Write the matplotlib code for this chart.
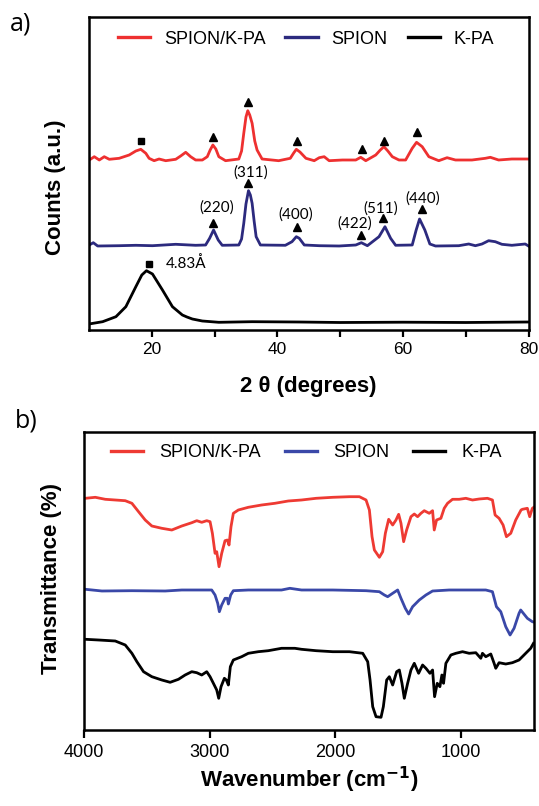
import matplotlib
matplotlib.use("Agg")
import matplotlib.pyplot as plt

# ---------------- XRD data (2 theta, counts a.u.) ----------------
xrd_comp_x = [10.0, 10.05, 10.84, 11.64, 12.43, 13.23, 14.81, 16.4, 17.46, 18.25, 19.05, 19.57, 20.37,
              21.16, 22.22, 23.81, 24.6, 25.4, 26.19, 26.98, 28.05, 28.84, 29.3, 29.73, 30.2, 30.68,
              31.75, 33.86, 34.3, 34.65, 35.0, 35.29, 35.6, 35.98, 36.4, 36.77, 37.57, 40.21, 42.06,
              42.6, 43.02, 43.6, 44.55, 45.87, 46.67, 47.46, 48.25, 50.37, 52.49, 53.28, 54.08, 55.67,
              56.4, 56.98, 57.6, 58.31, 59.37, 60.43, 61.48, 62.17, 63.07, 64.13, 65.71, 67.03, 68.37,
              71.0, 73.13, 73.92, 75.24, 77.35, 80.0]
xrd_comp_y = [170, 169, 172.3, 169, 172.3, 169.7, 170.7, 174, 178, 179.7, 175.7, 170.7, 168.3,
              170, 168.3, 169.7, 173, 176.7, 172.3, 169, 169, 172.3, 179, 184, 180, 172.3,
              168.3, 170, 178, 195.7, 212, 218.3, 214, 205.7, 188, 179, 170, 168.3, 170.7,
              176, 179.7, 177, 170.7, 168.3, 171.3, 172.3, 168.3, 169, 169, 171.7, 168.3, 174,
              179, 182.3, 178, 172.3, 169, 169, 180.7, 186.7, 182.3, 172.3, 168.3, 171.3, 169,
              169, 170.7, 171.7, 169, 170, 170]

xrd_spion_x = [10.0, 10.05, 10.68, 11.38, 14.81, 17.46, 20.11, 23.81, 26.98, 28.57, 29.21, 29.84, 30.58,
               31.22, 33.86, 34.3, 34.65, 35.0, 35.4, 35.7, 35.98, 36.3, 36.62, 37.3, 41.27, 42.33,
               43.02, 43.49, 44.29, 46.67, 49.84, 52.49, 53.38, 54.34, 56.19, 57.14, 58.04, 58.84,
               61.48, 62.11, 62.65, 63.49, 64.29, 65.19, 68.89, 70.48, 71.54, 72.59, 73.65, 74.71,
               75.76, 77.35, 79.48, 80.0]
xrd_spion_y = [84, 84, 86.3, 83, 83.3, 83.7, 83.3, 84.7, 83.7, 84, 90.7, 99, 89,
               83.7, 84, 90, 105.7, 125, 138.3, 134, 125.7, 108, 92.3, 84, 83.7, 87.3,
               92.3, 90.7, 84, 83.3, 83, 84, 86.3, 83.3, 92.3, 102.3, 90.7, 83.7,
               84, 99, 110, 99, 85, 83, 83.3, 85, 83.3, 85, 88.3, 87.3,
               84.7, 83.7, 85, 83]

xrd_kpa_x = [10.0, 12.17, 14.29, 15.87, 17.46, 18.41, 19.15, 20.11, 21.7, 23.29, 24.87, 25.6, 26.46,
             28.05, 30.68, 35.98, 43.4, 50.0, 60.0, 70.0, 80.0]
xrd_kpa_y = [5, 7.3, 12.3, 22.3, 42.3, 54, 58.3, 55, 39, 22.3, 14, 12, 10,
             8, 6.7, 7.3, 7, 6.5, 6.8, 6.5, 7]

# phase markers
sq_x = [18.25, 19.6]
sq_y = [188.3, 65]
tri_comp_x = [29.8, 35.3, 43.2, 53.5, 57.0, 62.3]
tri_comp_y = [192.3, 226.7, 188.3, 179.7, 188.3, 197]
tri_spion_x = [29.8, 35.35, 43.2, 53.4, 56.9, 63.0]
tri_spion_y = [106.3, 145.7, 102.3, 94, 110.7, 120]
hkl_labels = ["(220)", "(311)", "(400)", "(422)", "(511)", "(440)"]
hkl_x = [30.4, 35.8, 43.0, 52.3, 56.5, 63.2]
hkl_y = [121.7, 156.7, 114, 105, 120.7, 130.7]

# ---------------- FTIR data (wavenumber, transmittance a.u.) ----------------
ir_comp_w = [4000, 3989.4, 3910, 3830.5, 3751, 3671.5, 3618.5, 3565.6, 3512.6, 3459.6, 3380.2, 3300.7,
             3221.2, 3141.7, 3102, 3062.3, 3022.5, 2996, 2977.5, 2956.3, 2943, 2924.5, 2903.3, 2876.8,
             2858.3, 2845, 2829.2, 2810.6, 2770.9, 2691.4, 2585.4, 2479.5, 2373.5, 2267.6, 2151,
             2018.5, 1886, 1806.6, 1753.6, 1727.1, 1705.9, 1687.4, 1647.6, 1621.2, 1599.9, 1573.5,
             1541.7, 1515.2, 1494, 1475.5, 1454.3, 1430.4, 1396, 1369.5, 1343, 1316.5, 1290, 1250.3,
             1223.8, 1210.6, 1192, 1157.6, 1131.1, 1104.6, 1064.9, 1011.9, 958.9, 905.9, 852.9,
             786.7, 747, 725.8, 694, 662.2, 635.7, 601.2, 561.6, 519.2, 508.6, 468.9, 450.3, 429.2,
             420]
ir_comp_t = [230.7, 230.7, 231.7, 229.7, 229, 228.3, 225.7, 217.3, 209, 203, 200.7, 199,
             203, 206.3, 208.3, 206.7, 208.3, 207.3, 195.7, 175.7, 177.3, 162.3, 175.7, 188.3,
             189, 184, 202.3, 215.7, 219, 221.7, 224, 225.7, 228, 229, 230.7,
             231.7, 232.3, 232.3, 229, 219, 192.3, 179, 171.7, 177.3, 195.7, 209.7,
             204, 209, 214.7, 205.7, 187.3, 199, 212.3, 215, 212.3, 215.7, 218.3, 215.7,
             218.3, 199, 209, 210.7, 220.7, 225.7, 229.7, 229.7, 230.7, 229, 230,
             230.7, 229, 214, 210.7, 204, 192.3, 195.7, 209, 219, 219.7, 220.7, 212.3, 220.7,
             221.5]

ir_spion_w = [4000, 3989.4, 3857, 3618.5, 3353.7, 3221.2, 2982.8, 2956.3, 2935.1, 2921.9, 2903.3,
              2876.8, 2858.3, 2850.3, 2831.8, 2810.6, 2691.4, 2426.5, 2360.3, 2267.6, 2018.5,
              1753.6, 1647.6, 1607.9, 1581.4, 1541.7, 1502, 1475.5, 1441, 1414.5, 1382.8, 1329.8,
              1276.8, 1223.8, 1091.4, 958.9, 799.9, 747, 715.2, 680.7, 641, 606.6, 574.8, 535.1,
              522, 468.9, 429.2, 420]
ir_spion_t = [139.7, 139.7, 138, 138.3, 138, 139, 139, 134, 125.7, 117.3, 124,
              130.7, 130.7, 125, 134, 138.3, 139, 139, 140.7, 139, 139,
              138.3, 137.3, 134, 132.3, 135.7, 139, 130.7, 120.7, 115, 122.3, 129,
              134, 138, 139, 139, 139, 137.3, 122.3, 117.3, 102.3, 94, 100.7, 115.7,
              119, 110.7, 107.3, 107]

ir_kpa_w = [4000, 3989.4, 3883.5, 3751, 3671.5, 3618.5, 3578.8, 3525.8, 3459.6, 3380.2, 3313.9,
            3247.7, 3194.7, 3141.7, 3102, 3062.3, 3022.5, 2996, 2969.5, 2943, 2927.1, 2908.6,
            2882.1, 2866.2, 2850.3, 2834.5, 2810.6, 2744.4, 2691.4, 2611.9, 2532.5, 2426.5,
            2320.5, 2267.6, 2151, 2018.5, 1886, 1780, 1740.4, 1721.8, 1700.6, 1674.1, 1634.4,
            1615.9, 1589.4, 1568.2, 1541.7, 1509.9, 1488.7, 1467.5, 1449, 1422.5, 1396, 1369.5,
            1335.1, 1303.3, 1276.8, 1245, 1223.8, 1207.9, 1186.7, 1165.5, 1149.6, 1136.4, 1117.8,
            1078.1, 1038.4, 985.4, 932.4, 879.4, 839.7, 826.4, 799.9, 760.2, 733.7, 720.5, 694,
            641, 588.1, 535.1, 482.1, 442.4, 420]
ir_kpa_t = [89.7, 89.7, 89, 88, 84, 75.7, 67.3, 57.3, 52.3, 49, 46.7,
            49.7, 54, 57.3, 56.3, 54, 57.3, 52.3, 45.7, 39, 30.7, 42.3,
            50.7, 49, 44, 62.3, 69, 72.3, 75.7, 77.3, 78.3, 80.7,
            80.7, 79.7, 78.3, 77.3, 77.3, 75.7, 67.3, 49, 22.3, 12.3, 11.7,
            22.3, 49, 52.3, 44, 57.3, 59, 45.7, 30.7, 45.7, 59, 65.7,
            55.7, 64, 60.7, 55.7, 59, 32.3, 45.7, 42.3, 54, 45.7, 65.7,
            74, 75.7, 77.3, 75.7, 76.3, 70.7, 75.7, 72.3, 75, 65.7, 60.7, 66.3,
            65, 66.3, 69, 75.7, 80.7, 85.7]

series_names = ["SPION/K-PA", "SPION", "K-PA"]
xrd_colors = ["#ee3030", "#2c2a7e", "#000000"]
ir_colors = ["#ee3a33", "#3a48a8", "#000000"]

W, H = 539, 806
fig = plt.figure(figsize=(W / 100, H / 100), dpi=100)

# ---------- panel a) XRD ----------
axL, axR, axT, axB = 89, 528.5, 16.5, 330
ax1 = fig.add_axes([axL / W, 1 - axB / H, (axR - axL) / W, (axB - axT) / H])
ax1.plot(xrd_comp_x, xrd_comp_y, color=xrd_colors[0], lw=2.0, label=series_names[0], solid_joinstyle="round")
ax1.plot(xrd_spion_x, xrd_spion_y, color=xrd_colors[1], lw=2.0, label=series_names[1], solid_joinstyle="round")
ax1.plot(xrd_kpa_x, xrd_kpa_y, color=xrd_colors[2], lw=2.0, label=series_names[2], solid_joinstyle="round")
ax1.plot(sq_x, sq_y, ls="none", marker="s", ms=4.5, color="black")
ax1.plot(tri_comp_x, tri_comp_y, ls="none", marker="^", ms=5.5, color="black")
ax1.plot(tri_spion_x, tri_spion_y, ls="none", marker="^", ms=5.5, color="black")
for lab, x, y in zip(hkl_labels, hkl_x, hkl_y):
    ax1.text(x, y, lab, ha="center", va="center", fontsize=11, family="Lato")
ax1.text(22.2, 65, "4.83Å", ha="left", va="center", fontsize=11, family="Lato")
ax1.set_xlim(10, 80)
ax1.set_ylim(-1, 312.5)
ax1.set_xticks([20, 40, 60, 80])
ax1.set_xticks([30, 50, 70], minor=True)
ax1.set_yticks([])
ax1.tick_params(axis="x", which="both", direction="out", length=5, width=1.6, pad=4,
                labelsize=12.5, top=False)
for t in ax1.get_xticklabels():
    t.set_family("Liberation Sans")
for s in ax1.spines.values():
    s.set_linewidth(1.8)
ax1.set_xlabel("2 θ (degrees)", fontsize=16, fontweight="bold", family="Liberation Sans")
ax1.xaxis.set_label_coords(0.5, -(386.7 - axB) / (axB - axT))
ax1.xaxis.label.set_va("center")
ax1.set_ylabel("Counts (a.u.)", fontsize=16, fontweight="bold", family="Liberation Sans")
ax1.yaxis.set_label_coords((55 - axL) / (axR - axL), (axB - 187) / (axB - axT))
ax1.yaxis.label.set_va("center")
leg1 = ax1.legend(loc="center", bbox_to_anchor=((306 - axL) / (axR - axL), (axB - 39.3) / (axB - axT)),
                  ncol=3, frameon=False, handlelength=1.8, handletextpad=0.75,
                  columnspacing=1.1, borderpad=0, prop={"family": "Liberation Sans", "size": 13})
for l in leg1.get_lines():
    l.set_linewidth(2.4)
fig.text(10 / W, 1 - 24 / H, "a)", ha="left", va="center", fontsize=18, family="Open Sans")

# ---------- panel b) FTIR ----------
bL, bR, bT, bB = 84, 533.5, 432, 730
ax2 = fig.add_axes([bL / W, 1 - bB / H, (bR - bL) / W, (bB - bT) / H])
ax2.plot(ir_comp_w, ir_comp_t, color=ir_colors[0], lw=2.0, label=series_names[0], solid_joinstyle="round")
ax2.plot(ir_spion_w, ir_spion_t, color=ir_colors[1], lw=2.0, label=series_names[1], solid_joinstyle="round")
ax2.plot(ir_kpa_w, ir_kpa_t, color=ir_colors[2], lw=2.0, label=series_names[2], solid_joinstyle="round")
ax2.set_xlim(4000, 420)
ax2.set_ylim(-1, 297)
ax2.set_xticks([4000, 3000, 2000, 1000])
ax2.set_yticks([])
ax2.tick_params(axis="x", direction="out", length=6, width=1.6, pad=4, labelsize=13)
for t in ax2.get_xticklabels():
    t.set_family("Liberation Sans")
for s in ax2.spines.values():
    s.set_linewidth(1.8)
ax2.set_xlabel("Wavenumber (cm$^{\\mathbf{-1}}$)", fontsize=16, fontweight="bold",
               family="Liberation Sans")
ax2.xaxis.set_label_coords(0.5, -(780 - bB) / (bB - bT))
ax2.xaxis.label.set_va("center")
ax2.set_ylabel("Transmittance (%)", fontsize=16, fontweight="bold", family="Liberation Sans")
ax2.yaxis.set_label_coords((51.5 - bL) / (bR - bL), (bB - 578) / (bB - bT))
ax2.yaxis.label.set_va("center")
leg2 = ax2.legend(loc="center", bbox_to_anchor=((306.5 - bL) / (bR - bL), (bB - 452.7) / (bB - bT)),
                  ncol=3, frameon=False, handlelength=1.8, handletextpad=0.9,
                  columnspacing=1.3, borderpad=0, prop={"family": "Liberation Sans", "size": 13})
for l in leg2.get_lines():
    l.set_linewidth(2.4)
fig.text(15 / W, 1 - 421 / H, "b)", ha="left", va="center", fontsize=18, family="Open Sans")

fig.savefig("out.png", dpi=100)
